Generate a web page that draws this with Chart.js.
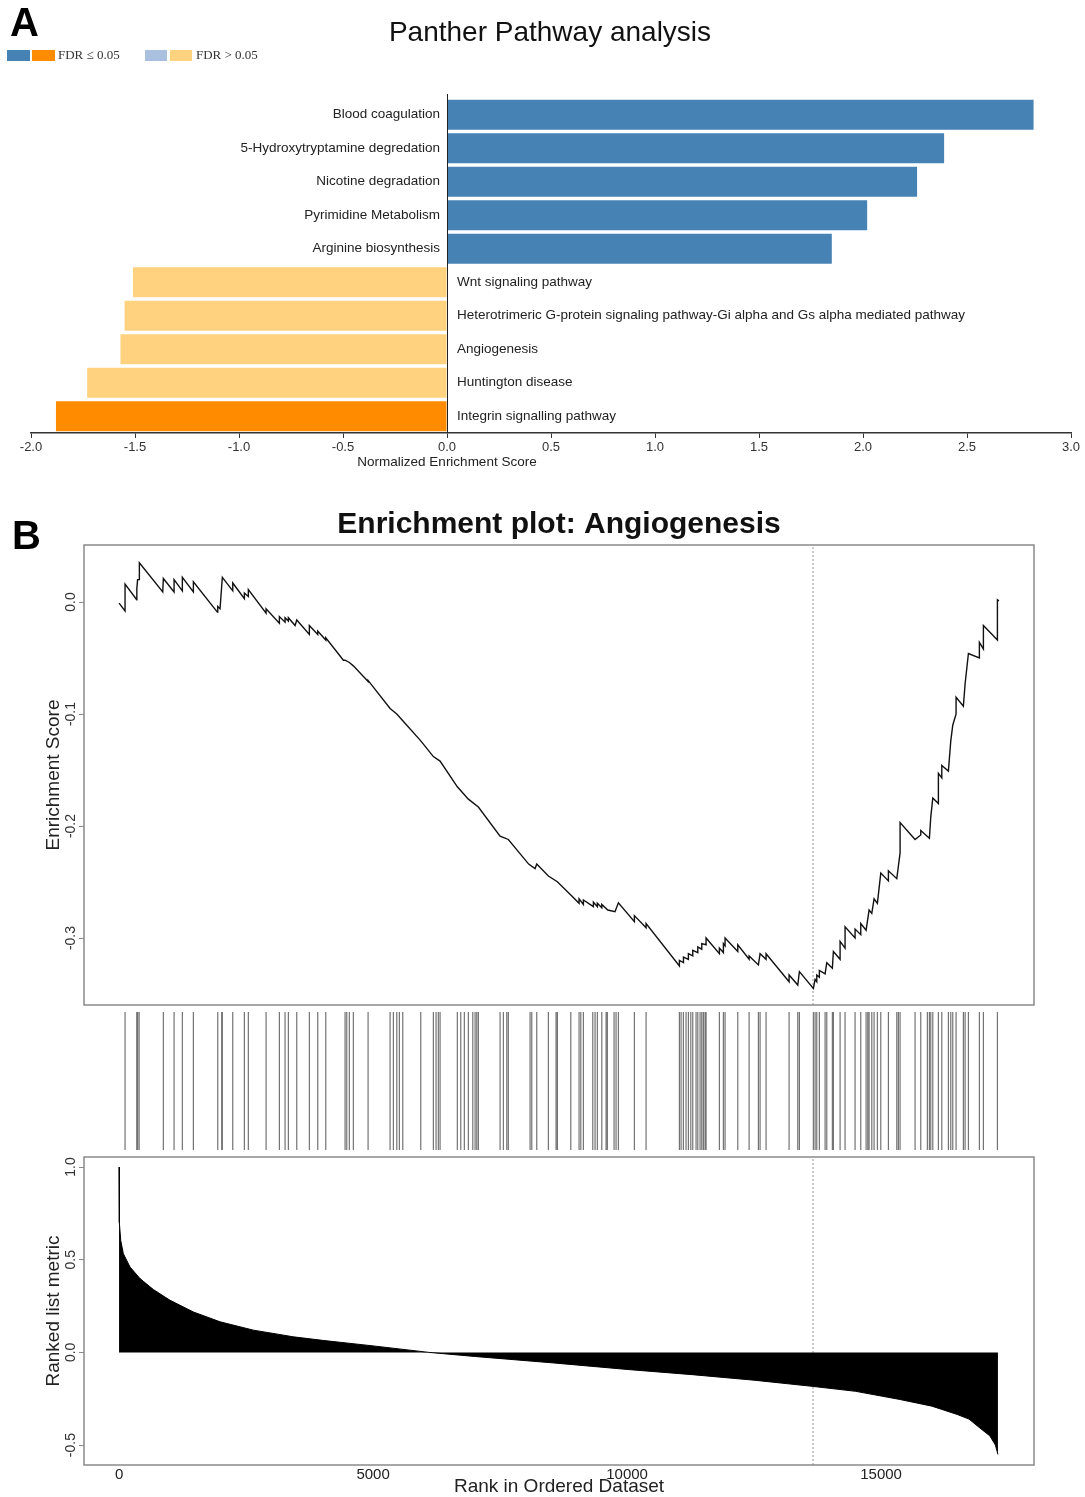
<!DOCTYPE html>
<html lang="en">
<head>
<meta charset="UTF-8">
<title>Panther Pathway analysis / Enrichment plot: Angiogenesis</title>
<script src="https://cdn.jsdelivr.net/npm/chart.js"></script>
<style>
  body { margin: 0; background: #fff; }
  #page { position: relative; width: 1085px; height: 1497px; overflow: hidden; }
  canvas { position: absolute; left: 0; }
</style>
</head>
<body>
<div id="page">
  <canvas id="bars" width="1085" height="480" style="top:0"></canvas>
  <canvas id="es" width="1085" height="520" style="top:490px"></canvas>
  <canvas id="hits" width="1085" height="145" style="top:1010px"></canvas>
  <canvas id="metric" width="1085" height="347" style="top:1150px"></canvas>
</div>
<script>
// ---- panel A: Panther pathways ----
const pathways = [
  'Blood coagulation',
  '5-Hydroxytryptamine degredation',
  'Nicotine degradation',
  'Pyrimidine Metabolism',
  'Arginine biosynthesis',
  'Wnt signaling pathway',
  'Heterotrimeric G-protein signaling pathway-Gi alpha and Gs alpha mediated pathway',
  'Angiogenesis',
  'Huntington disease',
  'Integrin signalling pathway'
];
const nes = [2.82, 2.39, 2.26, 2.02, 1.85, -1.51, -1.55, -1.57, -1.73, -1.88];
const fdrOk = [true, true, true, true, true, false, false, false, false, true];
const nesTicks = [-2, -1.5, -1, -0.5, 0, 0.5, 1, 1.5, 2, 2.5, 3];

// ---- panel B: GSEA enrichment plot ----
const esRank = [0,118,118,348,350,365,400,400,860,872,1083,1083,1246,1246,1463,1463,
  1935,1943,1988,2033,2238,2238,2467,2467,2545,2545,2894,2894,3156,3156,3268,3268,3333,3333,3465,3498,
  3746,3746,3911,3911,4069,4069,4416,4449,4533,4612,4902,4902,5335,5467,5585,5939,6187,6319,6659,6876,7073,
  7500,7663,8063,8189,8222,8451,8628,8892,9055,9055,9140,9140,9337,9337,9415,9415,9502,9502,9620,9762,9829,
  10144,10144,10374,10374,11030,11030,11110,11110,11207,11207,11293,11293,11392,11392,11470,11470,11555,11555,
  11817,11817,11896,11896,11929,11929,12179,12179,12402,12402,12585,12618,12736,12736,13189,13189,
  13360,13392,13667,13701,13734,13734,13785,13785,13898,13931,14041,14061,14193,14193,14291,14291,
  14488,14488,14600,14600,14705,14764,14817,14862,14927,14994,15144,15144,15309,15374,15374,15669,15781,15781,15951,15978,
  16018,16128,16128,16195,16195,16325,16372,16411,16476,16476,16620,16654,16719,16935,16935,17014,17014,17290,17290,17320];
const esScore = [-0.001,-0.008,0.016,0.002,0.012,0.020,0.020,0.035,0.009,0.021,0.009,0.020,0.010,0.022,0.009,0.018,
  -0.009,-0.004,-0.006,0.022,0.010,0.017,0.003,0.008,0.005,0.011,-0.010,-0.006,-0.019,-0.013,-0.018,-0.014,-0.017,-0.014,-0.021,-0.016,
  -0.029,-0.021,-0.029,-0.026,-0.034,-0.032,-0.052,-0.052,-0.054,-0.057,-0.071,-0.070,-0.095,-0.100,-0.106,-0.124,-0.138,-0.142,-0.165,-0.176,-0.183,
  -0.209,-0.212,-0.234,-0.238,-0.234,-0.2446,-0.2497,-0.2616,-0.269,-0.265,-0.270,-0.266,-0.272,-0.268,-0.272,-0.269,-0.273,-0.270,-0.275,-0.2765,-0.2685,
  -0.2854,-0.280,-0.2908,-0.287,-0.325,-0.320,-0.322,-0.317,-0.319,-0.314,-0.316,-0.311,-0.313,-0.308,-0.310,-0.305,-0.306,-0.300,
  -0.314,-0.309,-0.313,-0.305,-0.307,-0.300,-0.312,-0.306,-0.319,-0.316,-0.324,-0.314,-0.319,-0.314,-0.339,-0.333,
  -0.342,-0.330,-0.345,-0.337,-0.339,-0.333,-0.335,-0.329,-0.332,-0.322,-0.327,-0.312,-0.319,-0.303,-0.309,-0.290,
  -0.300,-0.292,-0.297,-0.287,-0.293,-0.275,-0.278,-0.265,-0.269,-0.242,-0.249,-0.240,-0.247,-0.224,-0.197,-0.212,-0.208,-0.204,-0.211,-0.192,
  -0.175,-0.180,-0.153,-0.157,-0.146,-0.151,-0.124,-0.110,-0.100,-0.085,-0.093,-0.073,-0.046,-0.050,-0.036,-0.042,-0.021,-0.034,0.002,0.001];
const hitRanks = [118,348,365,395,872,1083,1246,1463,1943,2020,2033,2238,2467,2545,2894,3156,3268,3333,3498,3746,3911,4069,
  4449,4482,4533,4612,4902,5335,5400,5467,5518,5585,5939,6187,6240,6285,6319,6659,6726,6797,6876,6963,7008,7041,7073,
  7500,7565,7632,7663,8091,8124,8222,8451,8602,8628,8892,9055,9089,9140,9325,9370,9415,9502,9587,9612,9744,9783,9829,
  10144,10374,11030,11063,11108,11161,11207,11254,11293,11358,11392,11437,11470,11502,11535,11555,11817,11896,11929,
  12179,12402,12585,12618,12736,13189,13360,13392,13667,13701,13734,13785,13898,13931,14041,14061,14193,14291,14488,
  14600,14705,14738,14764,14817,14862,14927,14994,15144,15309,15341,15374,15669,15781,15911,15951,15978,16018,16128,
  16195,16325,16372,16411,16476,16620,16654,16719,16935,17014,17290];
const metricRank = [0,6,33,85,217,413,675,1004,1463,1988,2644,3431,4000,5000,6100,7000,8555,10000,11280,12500,
  13640,14500,15370,16000,16500,16730,17000,17140,17250,17300];
const metricValue = [1.0,0.70,0.604,0.532,0.46,0.398,0.339,0.281,0.218,0.165,0.12,0.084,0.065,0.035,0.0,-0.022,
  -0.057,-0.092,-0.12,-0.15,-0.183,-0.21,-0.254,-0.29,-0.335,-0.36,-0.42,-0.45,-0.50,-0.55];
const peakRank = 13660;
const esTicks = [-0.3, -0.2, -0.1, 0.0];
const metricTicks = [-0.5, 0.0, 0.5, 1.0];
const rankTicks = [0, 5000, 10000, 15000];

const rankMin = -690, rankMax = 18010;
const esMin = -0.3598, esMax = 0.0509;
const metMin = -0.6075, metMax = 1.054;

const SANS = '"Liberation Sans", Arial, sans-serif';
const SERIF = '"Liberation Serif", "Times New Roman", serif';

function txt(ctx, s, x, y, font, align, color, rot) {
  ctx.save();
  ctx.font = font;
  ctx.fillStyle = color || '#222';
  ctx.textAlign = align || 'center';
  ctx.textBaseline = 'middle';
  ctx.translate(x, y);
  if (rot) ctx.rotate(rot);
  ctx.fillText(s, 0, 0);
  ctx.restore();
}

// gray box round the plot region, like R's box()
const frame = {
  id: 'frame',
  afterDraw(chart) {
    const a = chart.chartArea, ctx = chart.ctx;
    ctx.save();
    ctx.strokeStyle = '#8a8a8a';
    ctx.lineWidth = 1.5;
    ctx.strokeRect(a.left, a.top, a.right - a.left, a.bottom - a.top);
    ctx.restore();
  }
};

// rotated y tick labels and axis title
function yLabels(title) {
  return {
    id: 'yLabels',
    afterDraw(chart) {
      const y = chart.scales.y, ctx = chart.ctx, a = chart.chartArea;
      y.ticks.forEach(t => {
        txt(ctx, t.value.toFixed(1), 71, y.getPixelForValue(t.value), '14px ' + SANS, 'center', '#333', -Math.PI / 2);
      });
      txt(ctx, title, 54, (a.top + a.bottom) / 2, '19px ' + SANS, 'center', '#222', -Math.PI / 2);
    }
  };
}

function barColor(v, ok) {
  if (v >= 0) return ok ? '#4682B4' : '#A9C0DE';
  return ok ? '#FF8C00' : '#FFD27F';
}

// ---- panel A ----
const panelA = {
  id: 'panelA',
  afterDraw(chart) {
    const ctx = chart.ctx, x = chart.scales.x, y = chart.scales.y, a = chart.chartArea;
    const x0 = x.getPixelForValue(0);
    txt(ctx, 'A', 10, 25, 'bold 40px ' + SANS, 'left', '#000');
    txt(ctx, 'Panther Pathway analysis', 550, 33, '28px ' + SANS, 'center', '#111');
    // legend
    ctx.fillStyle = '#4682B4'; ctx.fillRect(7, 50, 23, 11);
    ctx.fillStyle = '#FF8C00'; ctx.fillRect(32, 50, 23, 11);
    txt(ctx, 'FDR \u2264 0.05', 58, 56, '13px ' + SERIF, 'left', '#333');
    ctx.fillStyle = '#A9C0DE'; ctx.fillRect(145, 50, 22, 11);
    ctx.fillStyle = '#FFD27F'; ctx.fillRect(170, 50, 22, 11);
    txt(ctx, 'FDR > 0.05', 196, 56, '13px ' + SERIF, 'left', '#333');
    // zero line
    ctx.save();
    ctx.strokeStyle = '#222';
    ctx.lineWidth = 1;
    ctx.beginPath();
    ctx.moveTo(Math.round(x0) + 0.5, a.top - 4);
    ctx.lineTo(Math.round(x0) + 0.5, a.bottom);
    ctx.stroke();
    ctx.restore();
    // pathway names beside the zero line
    pathways.forEach((p, i) => {
      const py = y.getPixelForValue(i);
      if (nes[i] >= 0) txt(ctx, p, x0 - 7, py, '13.5px ' + SANS, 'right', '#222');
      else txt(ctx, p, x0 + 10, py, '13.5px ' + SANS, 'left', '#222');
    });
    txt(ctx, 'Normalized Enrichment Score', x0, 462, '13.5px ' + SANS, 'center', '#222');
  }
};

new Chart(document.getElementById('bars'), {
  type: 'bar',
  data: {
    labels: pathways,
    datasets: [{
      data: nes,
      backgroundColor: nes.map((v, i) => barColor(v, fdrOk[i])),
      borderWidth: 0,
      barPercentage: 0.9,
      categoryPercentage: 1.0
    }]
  },
  options: {
    indexAxis: 'y',
    responsive: false,
    animation: false,
    layout: { padding: { left: 31, right: 14, top: 98, bottom: 17 } },
    plugins: { legend: { display: false }, tooltip: { enabled: false } },
    scales: {
      x: {
        type: 'linear',
        min: -2, max: 3,
        afterBuildTicks: s => { s.ticks = nesTicks.map(v => ({ value: v })); },
        afterFit: s => { s.height = 30; },
        ticks: { callback: v => v.toFixed(1), font: { family: SANS, size: 13 }, color: '#333', padding: 2, maxRotation: 0 },
        grid: { drawOnChartArea: false, drawTicks: true, tickLength: 5, color: '#333' },
        border: { display: true, color: '#333', width: 1.5 }
      },
      y: { display: false }
    }
  },
  plugins: [panelA]
});

// ---- panel B: running enrichment score ----
const esTitle = {
  id: 'esTitle',
  afterDraw(chart) {
    const ctx = chart.ctx, a = chart.chartArea;
    txt(ctx, 'B', 12, 48, 'bold 40px ' + SANS, 'left', '#000');
    txt(ctx, 'Enrichment plot: Angiogenesis', (a.left + a.right) / 2, 35, 'bold 30px ' + SANS, 'center', '#111');
  }
};

const yAxisB = (min, max, ticks) => ({
  type: 'linear',
  min: min, max: max,
  afterBuildTicks: s => { s.ticks = ticks.map(v => ({ value: v })); },
  afterFit: s => { s.width = 84; },
  ticks: { display: false },
  grid: { drawOnChartArea: false, drawTicks: true, tickLength: 5, color: '#8a8a8a' },
  border: { display: false }
});

new Chart(document.getElementById('es'), {
  type: 'line',
  data: {
    datasets: [
      {
        data: esRank.map((r, i) => ({ x: r, y: esScore[i] })),
        borderColor: '#111',
        borderWidth: 1.4,
        pointRadius: 0,
        tension: 0
      },
      {
        data: [{ x: peakRank, y: esMin }, { x: peakRank, y: esMax }],
        borderColor: '#999',
        borderWidth: 1,
        borderDash: [2, 2],
        pointRadius: 0
      }
    ]
  },
  options: {
    responsive: false,
    animation: false,
    layout: { padding: { left: 0, right: 51, top: 55, bottom: 5 } },
    plugins: { legend: { display: false }, tooltip: { enabled: false } },
    scales: {
      x: { type: 'linear', min: rankMin, max: rankMax, display: false },
      y: yAxisB(esMin, esMax, esTicks)
    }
  },
  plugins: [frame, yLabels('Enrichment Score'), esTitle]
});

// ---- panel B: hit positions ----
const hitPoints = [];
hitRanks.forEach(r => { hitPoints.push({ x: r, y: 0 }, { x: r, y: 1 }, { x: r, y: null }); });

new Chart(document.getElementById('hits'), {
  type: 'line',
  data: {
    datasets: [{
      data: hitPoints,
      borderColor: 'rgba(0,0,0,0.55)',
      borderWidth: 1.2,
      pointRadius: 0,
      spanGaps: false
    }]
  },
  options: {
    responsive: false,
    animation: false,
    layout: { padding: { left: 84, right: 51, top: 2, bottom: 5 } },
    plugins: { legend: { display: false }, tooltip: { enabled: false } },
    scales: {
      x: { type: 'linear', min: rankMin, max: rankMax, display: false },
      y: { min: 0, max: 1, display: false }
    }
  }
});

// ---- panel B: ranked list metric ----
const rankTitle = {
  id: 'rankTitle',
  afterDraw(chart) {
    const a = chart.chartArea;
    txt(chart.ctx, 'Rank in Ordered Dataset', (a.left + a.right) / 2, 1487 - 1150, '19px ' + SANS, 'center', '#222');
  }
};

new Chart(document.getElementById('metric'), {
  type: 'line',
  data: {
    datasets: [
      {
        data: metricRank.map((r, i) => ({ x: r, y: metricValue[i] })),
        borderColor: '#000',
        backgroundColor: '#000',
        borderWidth: 1,
        fill: 'origin',
        pointRadius: 0,
        tension: 0
      },
      {
        data: [{ x: peakRank, y: metMin }, { x: peakRank, y: metMax }],
        borderColor: '#999',
        borderWidth: 1,
        borderDash: [2, 2],
        pointRadius: 0
      }
    ]
  },
  options: {
    responsive: false,
    animation: false,
    layout: { padding: { left: 0, right: 51, top: 7, bottom: 0 } },
    plugins: { legend: { display: false }, tooltip: { enabled: false } },
    scales: {
      x: {
        type: 'linear',
        min: rankMin, max: rankMax,
        afterBuildTicks: s => { s.ticks = rankTicks.map(v => ({ value: v })); },
        afterFit: s => { s.height = 32; },
        ticks: { callback: v => String(v), font: { family: SANS, size: 15 }, color: '#222', padding: 1, maxRotation: 0 },
        grid: { drawOnChartArea: false, drawTicks: false },
        border: { display: false }
      },
      y: yAxisB(metMin, metMax, metricTicks)
    }
  },
  plugins: [frame, yLabels('Ranked list metric'), rankTitle]
});
</script>
</body>
</html>
